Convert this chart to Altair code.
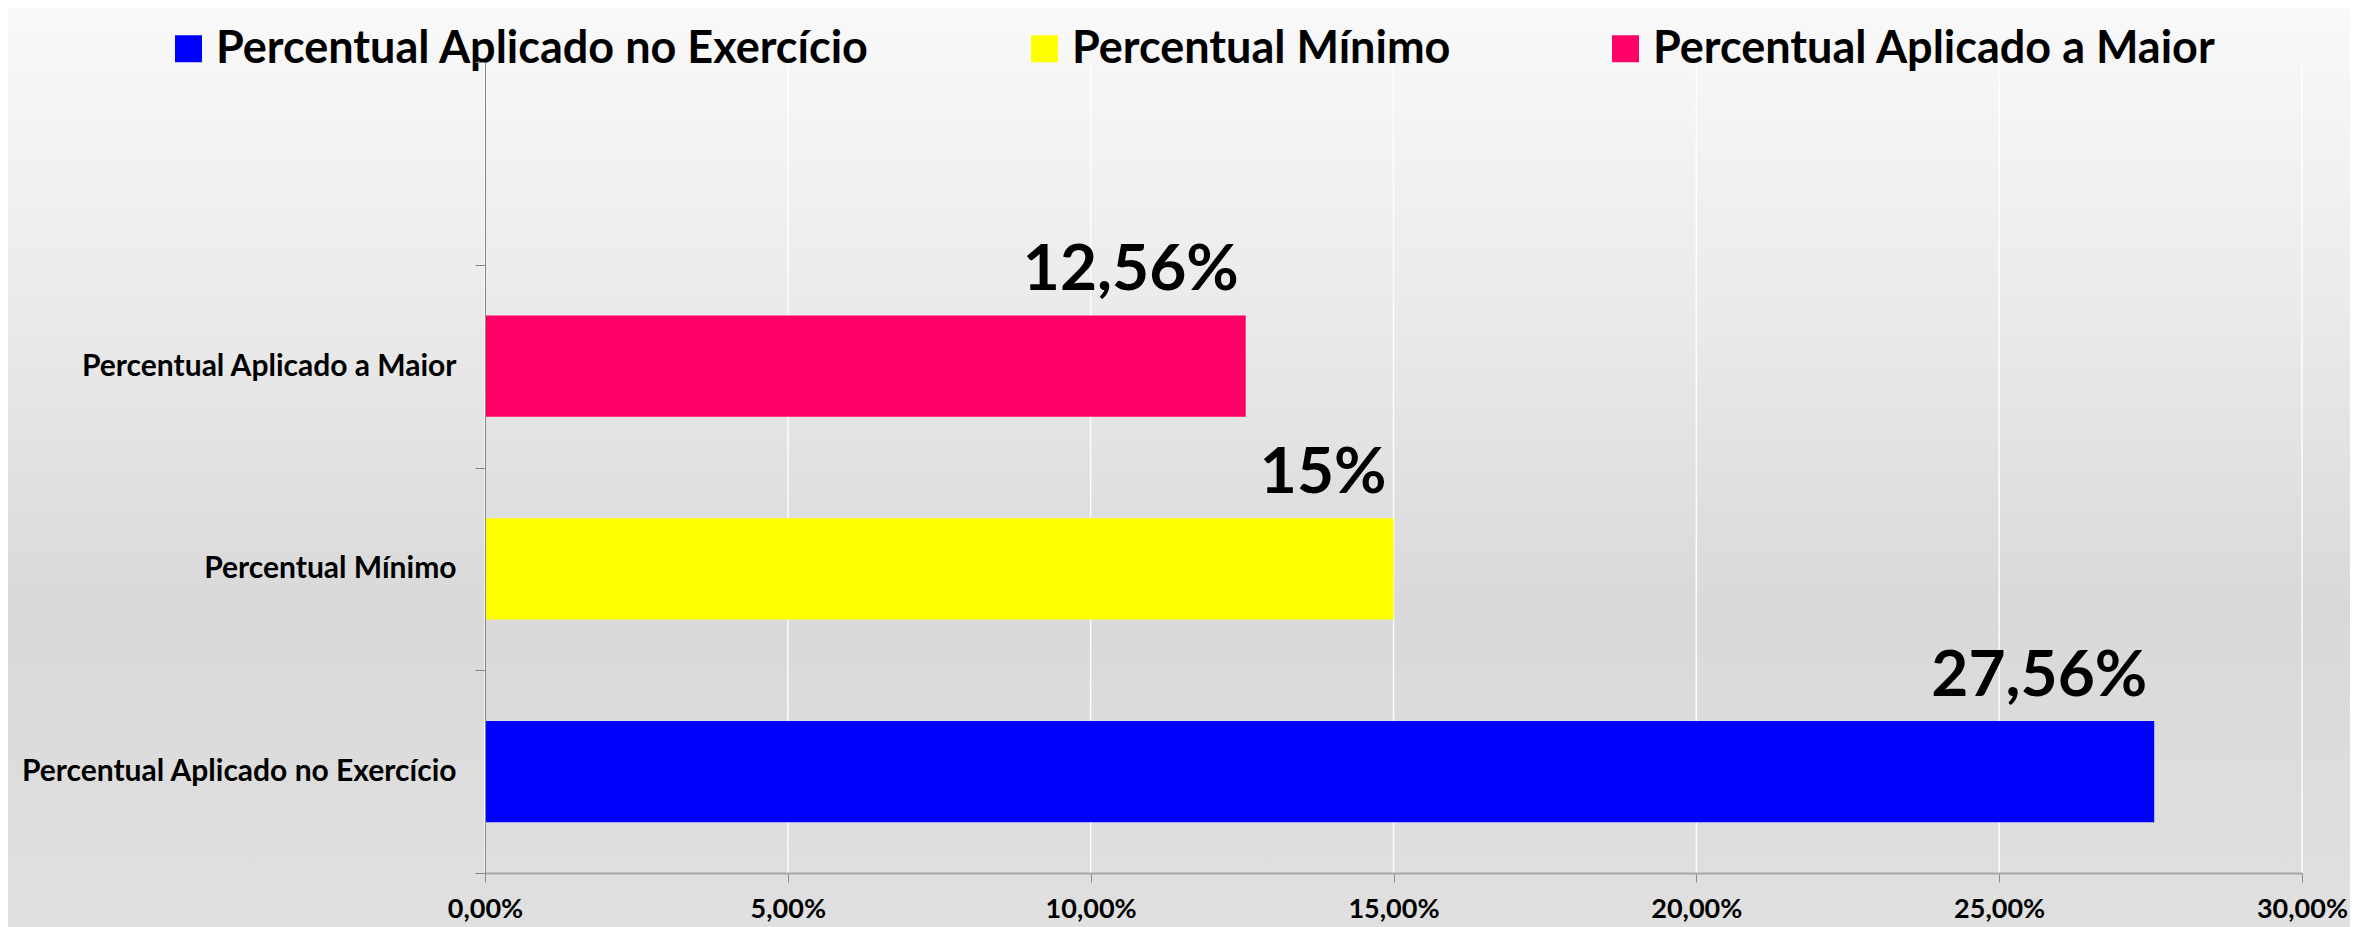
import altair as alt
import pandas as pd

# ---- data ----
categories = ["Percentual Aplicado no Exercício", "Percentual Mínimo", "Percentual Aplicado a Maior"]
values = [0.2756, 0.15, 0.1256]
colors = ["#0000ff", "#ffff00", "#ff0066"]
x_ticks = [0.0, 0.05, 0.10, 0.15, 0.20, 0.25, 0.30]
# top-to-bottom band order (the top band is empty, as in the original)
y_domain = [" ", categories[2], categories[1], categories[0]]

df = pd.DataFrame({"cat": categories, "value": values})
ticks_df = pd.DataFrame({"tick": x_ticks})
bg_df = pd.DataFrame({"bg": [0]})

W, H = 1817, 811
PAD = {"left": 477, "top": 54, "right": 48, "bottom": 54}
FONT = "Lato"

x_scale = alt.Scale(domain=[0, 0.3], nice=False, zero=True)
y_scale = alt.Scale(domain=y_domain, paddingInner=0, paddingOuter=0)

gradient = {
    "gradient": "linear",
    "x1": 0, "y1": 0, "x2": 0, "y2": 1,
    "stops": [
        {"offset": 0.0, "color": "#f9f9f9"},
        {"offset": 0.32, "color": "#ebebeb"},
        {"offset": 0.65, "color": "#d9d9d9"},
        {"offset": 1.0, "color": "#e0e0e0"},
    ],
}

bg = alt.Chart(bg_df).mark_rect(color=gradient).encode(
    x=alt.value(-PAD["left"]),
    x2=alt.value(W + PAD["right"]),
    y=alt.value(-PAD["top"]),
    y2=alt.value(H + PAD["bottom"]),
)

grid = alt.Chart(ticks_df).mark_rule(color="#ffffff", strokeWidth=1.5, opacity=0.9).encode(
    x=alt.X("tick:Q", scale=x_scale)
)

x_axis = alt.Axis(
    values=x_ticks,
    labelExpr="replace(format(datum.value, '.2%'), '.', ',')",
    grid=False,
    domainColor="#a6a6a6",
    domainWidth=2,
    tickColor="#8c8c8c",
    tickSize=9,
    tickWidth=1,
    labelFont=FONT,
    labelFontWeight="bold",
    labelFontSize=27,
    labelColor="#000000",
    labelPadding=14,
    labelFlush=False,
    zindex=1,
    title=None,
)

y_axis = alt.Axis(
    grid=False,
    tickBand="extent",
    domainColor="#868686",
    domainWidth=1,
    tickColor="#868686",
    tickSize=10,
    labelFont=FONT,
    labelFontWeight="bold",
    labelFontSize=30,
    labelColor="#000000",
    labelPadding=19,
    labelLimit=1000,
    zindex=1,
    title=None,
)

color = alt.Color(
    "cat:N",
    scale=alt.Scale(domain=categories, range=colors),
    legend=alt.Legend(
        orient="none",
        legendX=-319,
        legendY=-36,
        direction="horizontal",
        title=None,
        symbolType="square",
        symbolSize=729,
        symbolStrokeWidth=0,
        symbolOpacity=1,
        labelFont=FONT,
        labelFontWeight="bold",
        labelFontSize=45,
        labelColor="#000000",
        labelLimit=2000,
        labelOffset=5,
        columnPadding=152,
    ),
)

bars = alt.Chart(df).mark_bar(height={"band": 0.5}).encode(
    x=alt.X("value:Q", scale=x_scale, axis=x_axis),
    y=alt.Y("cat:N", scale=y_scale, axis=y_axis),
    color=color,
)

labels = alt.Chart(df).transform_calculate(
    label="replace(format(datum.value, '.2~%'), '.', ',')"
).mark_text(
    align="right", baseline="alphabetic", dx=-7, dy=-76,
    font=FONT, fontWeight="bold", fontSize=64, color="#000000",
).encode(
    x=alt.X("value:Q", scale=x_scale),
    y=alt.Y("cat:N", scale=y_scale),
    text="label:N",
)

chart = alt.layer(bg, grid, bars, labels).properties(
    width=W,
    height=H,
    autosize=alt.AutoSizeParams(type="none"),
    padding=PAD,
).configure_view(stroke="transparent")

chart.save("out.html", embed_options={"renderer": "svg", "actions": False})
